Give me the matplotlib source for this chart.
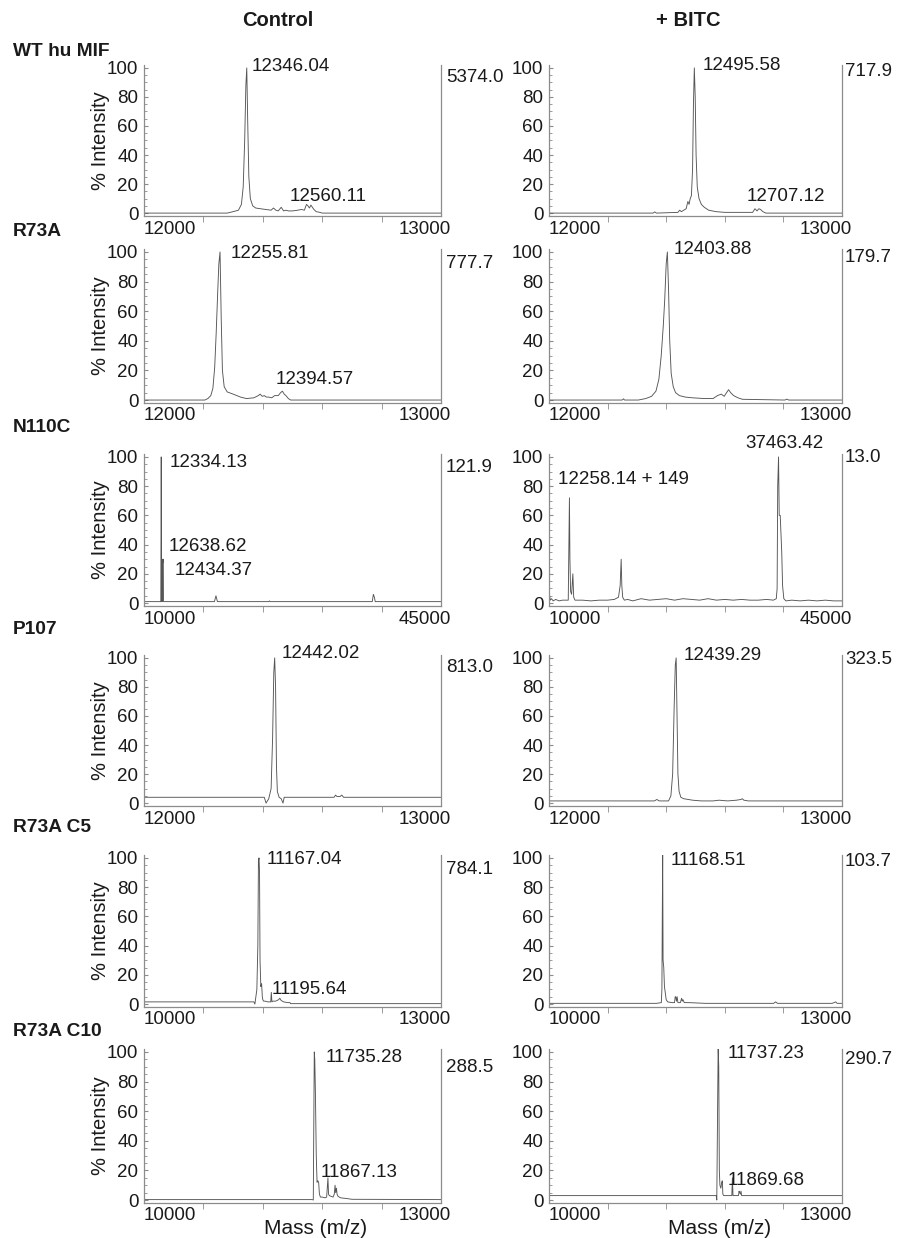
import matplotlib
matplotlib.use('Agg')
import matplotlib.pyplot as plt
import matplotlib.transforms as mtrans
from matplotlib.ticker import FixedLocator, MultipleLocator

plt.rcParams['font.family'] = ['Liberation Sans', 'DejaVu Sans']

# ---- data (m/z, % intensity) ----
wt_ctrl_mz = [12000, 12280, 12300, 12318, 12328, 12334, 12339, 12343, 12346, 12349, 12353, 12358, 12366,
              12376, 12392, 12410, 12428, 12436, 12444, 12452, 12462, 12470, 12478, 12486, 12500, 12518,
              12530, 12540, 12547, 12552, 12557, 12562, 12567, 12572, 12580, 12592, 12600, 13000]
wt_ctrl_int = [0, 0, 1, 2, 6, 18, 50, 88, 100, 65, 25, 10, 5, 3.5, 3, 2.5, 2, 3.5, 2, 1.5, 4, 1.5, 2, 1.5,
               1.5, 2, 2.5, 2, 6, 5, 3.5, 5.5, 4, 2.5, 1, 0.5, 0, 0]

wt_bitc_mz = [12000, 12355, 12361, 12367, 12440, 12446, 12452, 12468, 12474, 12478, 12482, 12486, 12490,
              12493, 12496, 12499, 12502, 12506, 12512, 12520, 12530, 12545, 12570, 12600, 12695, 12703,
              12710, 12716, 12722, 12730, 12740, 13000]
wt_bitc_int = [0, 0, 0.8, 0, 0.5, 2, 1, 3, 8, 6, 10, 12, 30, 75, 100, 80, 40, 18, 10, 6, 4, 2, 1, 0.5,
               0.5, 3, 1.5, 3, 2.5, 1, 0, 0]

r73a_ctrl_mz = [12000, 12205, 12215, 12225, 12232, 12238, 12243, 12248, 12252, 12256, 12260, 12264, 12270,
                12280, 12300, 12325, 12345, 12370, 12385, 12391, 12398, 12405, 12412, 12420, 12430, 12440,
                12452, 12460, 12466, 12472, 12478, 12486, 12494, 13000]
r73a_ctrl_int = [0, 0, 1, 3, 8, 22, 45, 72, 92, 100, 55, 20, 9, 5.5, 4, 2, 1, 1.5, 3, 4, 2.5, 3, 2, 2,
                 1.5, 3, 3, 5, 6, 4, 3, 1, 0, 0]

r73a_bitc_mz = [12000, 12250, 12254, 12258, 12305, 12330, 12350, 12365, 12375, 12383, 12390, 12395, 12400,
                12404, 12408, 12412, 12417, 12424, 12432, 12445, 12465, 12490, 12530, 12560, 12575, 12588,
                12598, 12606, 12613, 12620, 12630, 12645, 12660, 12805, 12812, 12818, 13000]
r73a_bitc_int = [0, 0, 0.8, 0, 0, 1, 2.5, 6, 14, 30, 50, 68, 92, 100, 75, 40, 18, 9, 5, 3, 2, 1.5, 1, 1,
                 3, 4, 2.5, 5, 7, 5, 3, 1.5, 0.5, 0, 0.6, 0, 0]

n110c_ctrl_mz = [10000, 11980, 12030, 12080, 12180, 12200, 12230, 12260, 12300, 18300, 18480, 18650,
                 24700, 24780, 24860, 36900, 37030, 37150, 37250, 45000]
n110c_ctrl_int = [1, 1, 100, 1, 1, 30, 28, 30, 1, 1, 5, 1, 1, 1.5, 1, 1, 6, 4, 1, 1]

n110c_bitc_mz = [10000, 10080, 10150, 10300, 10500, 10800, 11200, 11600, 12000, 12300, 12440, 12500,
                 12580, 12700, 12850, 12950, 13100, 14000, 15000, 16000, 17000, 17800, 18300, 18500, 18620,
                 18700, 18800, 19000, 19400, 20000, 21000, 22000, 23000, 24000, 25000, 26000, 27000, 28000,
                 29000, 30000, 31000, 32000, 33000, 34000, 35000, 36000, 36800, 37150, 37250, 37320, 37420,
                 37500, 37620, 37800, 37900, 38050, 38300, 39000, 40000, 41000, 42000, 43000, 44000, 45000]
n110c_bitc_int = [1, 5, 2, 3, 1.5, 2.5, 1.5, 2, 2, 2, 72, 30, 8, 6, 20, 4, 2, 2, 1.5, 2, 2, 2.5, 4, 12,
                  30, 12, 4, 2, 2.5, 1.5, 3, 2, 2.5, 3, 2, 3, 2.5, 2, 3, 2, 2.5, 2, 2.5, 2, 2, 2.5, 2, 3,
                  10, 80, 100, 60, 60, 35, 12, 3, 1.5, 2, 1.5, 2, 1.5, 2, 1.5, 1.5]

p107_ctrl_mz = [12000, 12405, 12411, 12420, 12428, 12433, 12437, 12440, 12443, 12446, 12449, 12455, 12462,
                12468, 12472, 12478, 12640, 12645, 12650, 12660, 12666, 12672, 13000]
p107_ctrl_int = [4, 4, 0, 3, 10, 45, 90, 100, 80, 25, 8, 4, 3, 0, 4, 4, 4, 5.5, 4.5, 4.5, 5.5, 4, 4]

p107_bitc_mz = [12000, 12360, 12368, 12376, 12408, 12416, 12422, 12427, 12431, 12434, 12437, 12440, 12444,
                12450, 12460, 12475, 12490, 12520, 12560, 12580, 12610, 12640, 12655, 12660, 12665, 12680,
                13000]
p107_bitc_int = [1.5, 1.5, 2.5, 1.5, 1.5, 5, 20, 65, 95, 100, 60, 20, 8, 4, 3, 2.5, 2, 1.5, 1.5, 2, 1.5,
                 2, 2.5, 3, 2, 1.5, 1.5]

c5_ctrl_mz = [10000, 11110, 11120, 11140, 11150, 11156, 11162, 11167, 11172, 11180, 11188, 11195, 11200,
              11208, 11225, 11250, 11280, 11286, 11292, 11300, 11330, 11360, 11372, 11385, 11410, 11450,
              11475, 11480, 13000]
c5_ctrl_int = [1.5, 1.5, 0, 10, 40, 98, 100, 90, 30, 12, 14, 5, 3, 2, 2, 1.5, 1.5, 8, 1.5, 2, 2, 3, 4,
               2.5, 1.5, 1, 1, 0.3, 0.3]

c5_bitc_mz = [10000, 10500, 11100, 11150, 11156, 11160, 11164, 11168, 11175, 11182, 11190, 11200, 11215,
              11260, 11285, 11292, 11298, 11305, 11312, 11320, 11345, 11358, 11364, 11372, 11385, 11430,
              11600, 12000, 12300, 12320, 12340, 12900, 12935, 12950, 13000]
c5_bitc_int = [0.5, 0.5, 0.5, 1, 10, 60, 104, 30, 25, 12, 8, 3, 1.5, 1, 1, 5, 5, 2, 5, 1, 1, 4, 2, 3, 1,
               1, 0.5, 0.5, 0.5, 1.5, 0.5, 0.5, 1.5, 0.5, 0.5]

c10_ctrl_mz = [10000, 11700, 11710, 11716, 11720, 11725, 11732, 11740, 11748, 11756, 11764, 11772, 11782,
               11800, 11830, 11845, 11852, 11858, 11864, 11872, 11890, 11910, 11922, 11930, 11936, 11944,
               11950, 11960, 11985, 12050, 12100, 13000]
c10_ctrl_int = [0.3, 0.3, 0, 60, 100, 95, 70, 30, 12, 13, 12, 4, 2, 2, 1.5, 2, 9, 15, 4, 3, 2.5, 2, 4,
                10, 5, 8, 4, 2.5, 1.5, 1, 0.5, 0.3]

c10_bitc_mz = [10000, 11712, 11718, 11726, 11732, 11738, 11744, 11750, 11760, 11768, 11775, 11780, 11788,
               11800, 11860, 11872, 11878, 11884, 11940, 11946, 11952, 11960, 11966, 11972, 13000]
c10_bitc_int = [3, 3, 0, 60, 104, 90, 20, 10, 8, 12, 13, 4, 3, 3, 3, 3, 15, 3, 3, 6, 5, 4, 6, 3, 3]

row_names = ['WT hu MIF', 'R73A', 'N110C', 'P107', 'R73A C5', 'R73A C10']
mass_ranges = [(12000, 13000), (12000, 13000), (10000, 45000), (12000, 13000), (10000, 13000), (10000, 13000)]
scale_ctrl = ['5374.0', '777.7', '121.9', '813.0', '784.1', '288.5']
scale_bitc = ['717.9', '179.7', '13.0', '323.5', '103.7', '290.7']

# peak annotations: (text, m/z, intensity)
peaks_ctrl = [
    [('12346.04', 12361, 101), ('12560.11', 12492, 11.5)],
    [('12255.81', 12291, 99), ('12394.57', 12443, 14)],
    [('12334.13', 13074, 96), ('12638.62', 12877, 39), ('12434.37', 13665, 22)],
    [('12442.02', 12465, 103)],
    [('11167.04', 11238, 99), ('11195.64', 11289, 10)],
    [('11735.28', 11831, 96.5), ('11867.13', 11781, 18.5)],
]
peaks_bitc = [
    [('12495.58', 12525, 101.5), ('12707.12', 12675, 11.5)],
    [('12403.88', 12424, 102)],
    [('12258.14 + 149', 11078, 84.5), ('37463.42', 33427, 109)],
    [('12439.29', 12459, 102)],
    [('11168.51', 11241, 98)],
    [('11737.23', 11830, 99), ('11869.68', 11830, 13.5)],
]

ctrl_traces = [(wt_ctrl_mz, wt_ctrl_int), (r73a_ctrl_mz, r73a_ctrl_int), (n110c_ctrl_mz, n110c_ctrl_int),
               (p107_ctrl_mz, p107_ctrl_int), (c5_ctrl_mz, c5_ctrl_int), (c10_ctrl_mz, c10_ctrl_int)]
bitc_traces = [(wt_bitc_mz, wt_bitc_int), (r73a_bitc_mz, r73a_bitc_int), (n110c_bitc_mz, n110c_bitc_int),
               (p107_bitc_mz, p107_bitc_int), (c5_bitc_mz, c5_bitc_int), (c10_bitc_mz, c10_bitc_int)]

# ---- layout in pixels ----
W, H = 899, 1238
fig = plt.figure(figsize=(W / 100, H / 100), dpi=100)

col_x = [(144, 441), (549, 842)]
row_y = [(65, 216), (249, 403), (454, 606), (655, 806), (855, 1007), (1049, 1203)]
row_lab_y = [52, 232, 428, 630, 828, 1032]
scale_y = [(77, 71), (263, 257), (467, 458), (667, 660), (870, 862), (1067, 1060)]

SP = '#8c8c8c'
LN = '#555555'
TX = '#1a1a1a'
FS = 13.5


def draw_panel(x0, x1, top, bot, trace, xr, peaks):
    ax = fig.add_axes([x0 / W, 1 - bot / H, (x1 - x0) / W, (bot - top) / H])
    ax.plot(trace[0], trace[1], color=LN, lw=0.65)
    ax.set_xlim(*xr)
    ax.set_ylim(-2, 102)
    ax.spines['top'].set_visible(False)
    for s in ['left', 'right', 'bottom']:
        ax.spines[s].set_color(SP)
        ax.spines[s].set_linewidth(0.9)
    ax.set_yticks([0, 20, 40, 60, 80, 100])
    ax.yaxis.set_minor_locator(MultipleLocator(5))
    ax.tick_params(axis='y', which='both', direction='in', color=SP, labelsize=FS,
                   labelcolor=TX, pad=4)
    ax.tick_params(axis='y', which='major', length=3)
    ax.tick_params(axis='y', which='minor', length=2)
    lo, hi = xr
    ax.set_xticks([])
    ax.xaxis.set_minor_locator(FixedLocator([lo + k * (hi - lo) / 5 for k in range(1, 5)]))
    ax.tick_params(axis='x', which='minor', direction='out', length=4, color=SP)
    bt = mtrans.blended_transform_factory(ax.transData, ax.transAxes)
    off = mtrans.ScaledTranslation(0, -13 / 100, fig.dpi_scale_trans)
    ax.text(lo, 0, str(lo), transform=bt + off, ha='left', va='center', fontsize=FS, color=TX)
    off_r = mtrans.ScaledTranslation(10 / 100, -13 / 100, fig.dpi_scale_trans)
    ax.text(hi, 0, str(hi), transform=bt + off_r, ha='right', va='center', fontsize=FS, color=TX)
    for txt, mz, it in peaks:
        ax.text(mz, it, txt, ha='left', va='center', fontsize=FS, color=TX, clip_on=False)
    return ax


for i in range(6):
    top, bot = row_y[i]
    draw_panel(col_x[0][0], col_x[0][1], top, bot, ctrl_traces[i], mass_ranges[i], peaks_ctrl[i])
    draw_panel(col_x[1][0], col_x[1][1], top, bot, bitc_traces[i], mass_ranges[i], peaks_bitc[i])
    fig.text(13 / W, 1 - row_lab_y[i] / H, row_names[i], ha='left', va='center',
             fontsize=13.8, fontweight='bold', color=TX)
    fig.text(446 / W, 1 - scale_y[i][0] / H, scale_ctrl[i], ha='left', va='center', fontsize=FS, color=TX)
    fig.text(845 / W, 1 - scale_y[i][1] / H, scale_bitc[i], ha='left', va='center', fontsize=FS, color=TX)
    fig.text(100 / W, 1 - (top + bot) / 2 / H, '% Intensity', rotation=90, ha='center', va='center',
             fontsize=14.5, color=TX)

fig.text(278 / W, 1 - 21 / H, 'Control', ha='center', va='center', fontsize=14.5, fontweight='bold', color=TX)
fig.text(688 / W, 1 - 21 / H, '+ BITC', ha='center', va='center', fontsize=14.5, fontweight='bold', color=TX)
fig.text(316 / W, 1 - 1228 / H, 'Mass (m/z)', ha='center', va='center', fontsize=15, color=TX)
fig.text(720 / W, 1 - 1228 / H, 'Mass (m/z)', ha='center', va='center', fontsize=15, color=TX)

fig.savefig('out.png', dpi=100)
